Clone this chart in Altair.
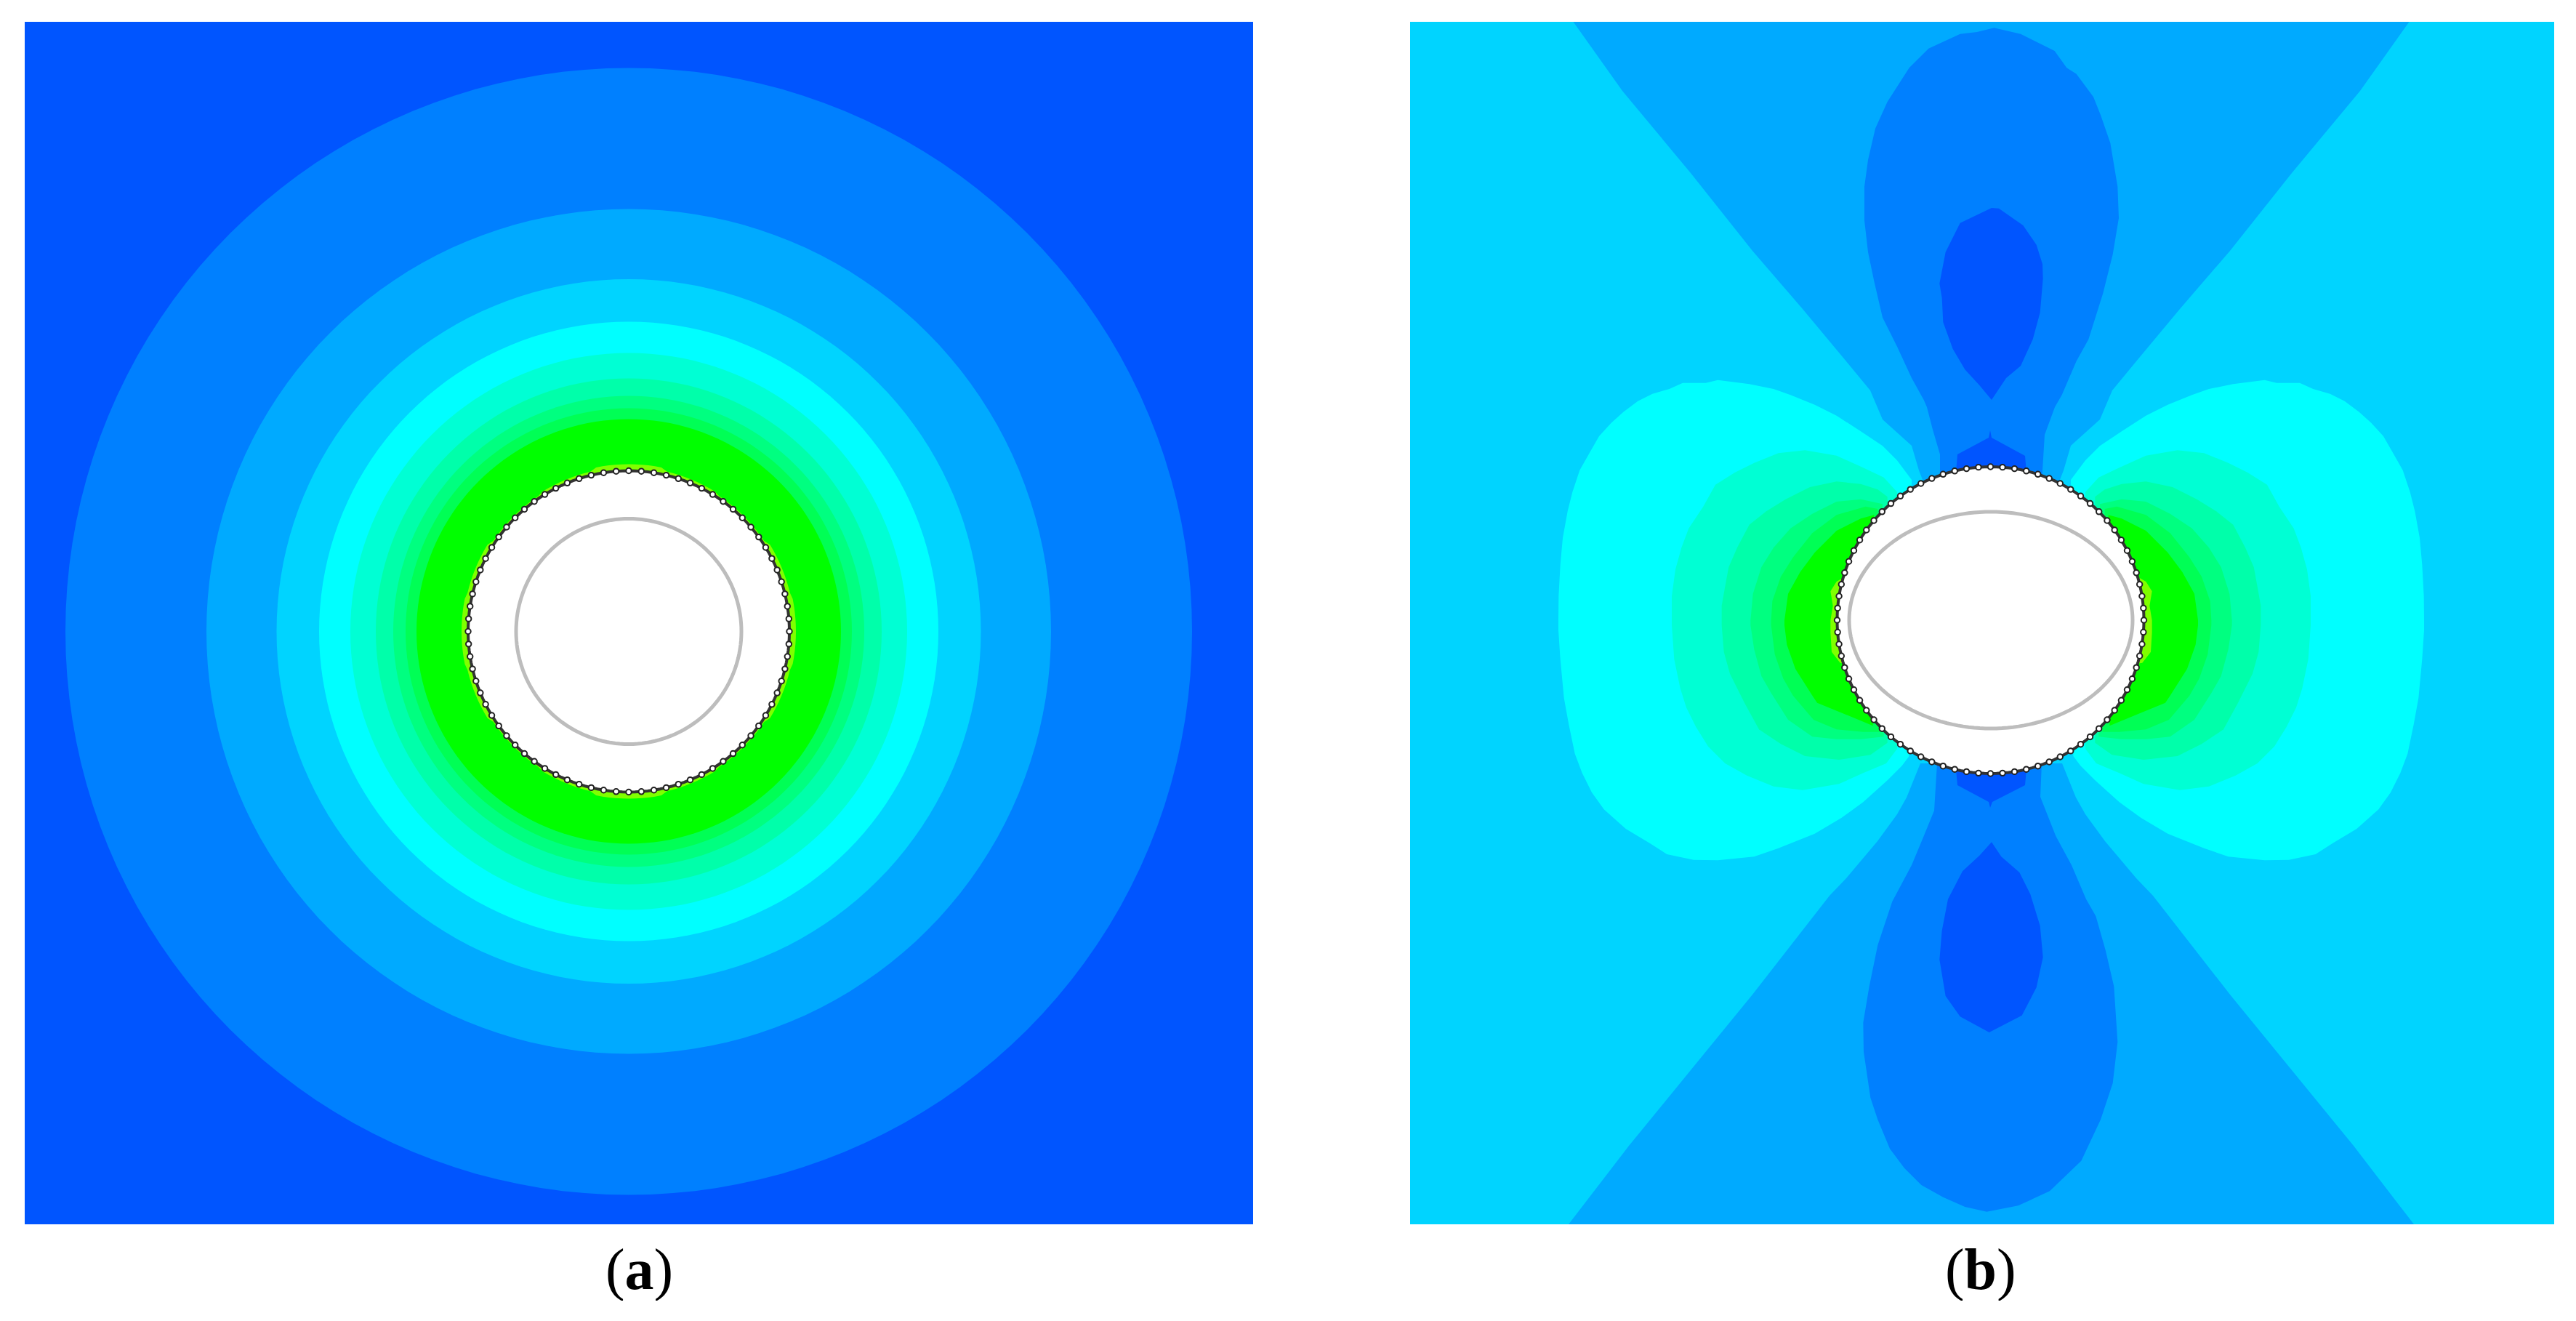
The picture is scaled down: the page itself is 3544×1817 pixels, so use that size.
import math
import altair as alt

# ---------- panel (a): radii of the contour rings, reference pixels ----------
C_BG_A = "#0055FF"
RING_COLORS_A = ["#0080FF", "#00AAFF", "#00D4FF", "#00FFFF", "#00FFD4", "#00FFAA", "#00FF80", "#00FF55", "#00FF00"]
RING_R_A = [775, 581, 484.5, 426, 383, 348, 324, 307, 292]
LIME_R_A = [230, 228, 224, 226, 230, 226, 224, 228, 230, 228, 224, 226, 230, 226, 224, 228]
HOLE_R_A = 221
GREY_R_A = 155
W_A, H_A = 1690, 1654
W_B, H_B = 1574, 1654
TRANSLATE = (831, 838.5)
ORIGIN_A = (865, 868.5)
ORIGIN_B = (2771, 868.5)
PANEL_B_BOX = [(1940, 30), (3514, 30), (3514, 1684), (1940, 1684)]
MIRROR_X = 5479

# ---------- panel (b): outlines ----------
# left-hand outlines, in the two 3x crops with origins Q1 and Q2
Q1, Q2, Q3, Q4 = (2130, 500), (2130, 850), (2540, 30), (2540, 1150)

WEDGE_TOP_LEFT = [(2164.5,30),(2232,125),(2326,238),(2411,345),(2480,425),(2540,497),(2573,537),(2590,577),(2630,613),(2640,647),(2647,665)]
WEDGE_BOTTOM_LEFT = [(2158,1684),(2241,1576),(2326,1472),(2411,1368),(2517,1232),(2540,1208),(2583,1157),(2610,1120),(2623,1097),(2642,1050)]

CYAN_Q1 = [(1500,480),(1440,400),(1380,340),(1290,280),(1190,215),(1100,170),(1000,130),(930,105),(830,85),(700,68),(650,80),(555,80),(500,105),(430,125),(370,155),(310,200),(260,245),(210,300),(170,370),(130,440),(100,530),(80,610),(60,720),(50,830),(43,960),(42,1060)]
CYAN_Q2 = [(42,50),(50,170),(65,330),(85,440),(110,560),(140,640),(180,720),(230,790),(320,870),(420,930),(490,975),(600,998),(700,1000),(850,985),(950,950),(1100,890),(1210,825),(1300,760),(1400,670),(1460,610),(1490,570)]
D4_Q1 = [(1440,530),(1385,470),(1300,430),(1190,380),(1060,358),(950,370),(850,410),(770,450),(690,500),(640,590),(580,680),(550,760),(525,850),(510,960),(510,1060)]
D4_Q2 = [(510,30),(520,170),(545,290),(570,370),(610,450),(660,530),(730,600),(820,650),(930,695),(1050,710),(1200,685),(1300,640),(1395,600),(1440,540)]
AA_Q1 = [(1400,550),(1360,520),(1290,497),(1190,487),(1080,510),(980,560),(900,610),(830,665),(780,760),(745,840),(730,920),(716,1000),(716,1060)]
AA_Q2 = [(716,30),(725,140),(750,230),(810,350),(870,460),(960,520),(1060,570),(1200,585),(1330,565),(1400,515)]
L80_Q1 = [(1380,580),(1290,560),(1190,570),(1090,620),(1000,680),(930,760),(880,840),(845,950),(835,1060)]
L80_Q2 = [(835,30),(850,130),(880,240),(920,310),(990,420),(1090,490),(1190,500),(1290,500),(1385,490)]
L55_Q1 = [(1360,600),(1310,590),(1190,625),(1090,700),(1010,800),(960,880),(925,980),(920,1060)]
L55_Q2 = [(920,30),(935,150),(970,250),(1010,320),(1095,420),(1190,460),(1300,470),(1370,470)]
L00_Q1 = [(1345,625),(1290,640),(1190,690),(1100,780),(1040,860),(990,950),(975,1060)]
L00_Q2 = [(975,30),(985,110),(1020,210),(1090,320),(1110,350),(1220,395),(1340,445)]
LIME_Q1 = [(1225,880),(1190,900),(1165,940),(1175,1000),(1165,1060)]
LIME_Q2 = [(1165,60),(1170,140),(1205,185),(1235,190)]

LOBE_TOP_Q3 = [(320,1560),(270,1470),(210,1340),(150,1220),(115,1070),(90,950),(75,820),(75,680),(90,570),(120,440),(170,330),(260,190),(340,110),(470,50),(540,42),(610,25),(720,50),(860,120),(910,190),(950,215),(1020,310),(1050,385),(1090,500),(1120,680),(1125,810),(1100,960),(1060,1120),(1000,1310),(950,1400),(890,1540)]
LOBE_TOP_NEAR_RIGHT = [(2827,560),(2813,598),(2809.5,655)]
LOBE_TOP_NEAR_LEFT = [(2669,655),(2669,625),(2659,591),(2651,560)]
DROP_TOP_Q3 = [(600,1560),(550,1500),(490,1435),(440,1350),(400,1240),(395,1140),(385,1080),(410,950),(470,830),(600,768),(630,770),(730,840),(785,920),(810,1000),(812,1060),(800,1200),(770,1310),(720,1420),(660,1470)]
LOBE_BOTTOM_NEAR_LEFT = [(2665,1050),(2661,1115)]
LOBE_BOTTOM_Q4 = [(320,0),(270,120),(190,270),(130,450),(95,620),(70,770),(72,890),(100,1080),(130,1170),(180,1290),(240,1370),(310,1440),(400,1490),(490,1530),(580,1550),(710,1525),(840,1465),(970,1340),(1050,1170),(1100,1020),(1120,850),(1105,620),(1070,470),(1030,330),(990,260),(930,120),(865,0)]
LOBE_BOTTOM_NEAR_RIGHT = [(2807,1096),(2809,1050)]
DROP_BOTTOM_Q4 = [(600,25),(550,80),(480,145),(420,260),(395,390),(385,510),(410,660),(470,745),(590,810),(725,740),(785,625),(812,500),(800,370),(760,240),(715,150),(640,85)]
DOME_TOP = [(2691,650),(2693,625),(2736,602),(2738,592),(2740,602),(2786,627),(2788,650)]
DOME_BOTTOM = [(2691,1058),(2693,1080),(2736,1103),(2738,1111),(2741,1103),(2786,1080),(2788,1058)]

HOLE_B = (2738.5, 853, 211)
GREY_B = (2739, 853, 195, 149)
N_DOTS = 80

# ---------- labels: text, left edge inside the panel, weight ----------
LABEL_A = [("(", 799, "normal"), ("a", 825.6, "bold"), (")", 865.6, "normal")]
LABEL_B = [("(", 736, "normal"), ("b", 762.6, "bold"), (")", 807, "normal")]
LABEL_SIZE = 80
LABEL_Y = 1743


def feature(coords, color):
    return {"type": "Feature", "properties": {"c": color},
            "geometry": {"type": "Polygon", "coordinates": [[list(p) for p in coords] + [list(coords[0])]]}}


def crop(origin, pts):
    return [(origin[0] + x / 3, origin[1] + y / 3) for x, y in pts]


def rel(pts, origin):
    return [(x - origin[0], origin[1] - y) for x, y in pts]


def mirrored(pts):
    return [(MIRROR_X - x, y) for x, y in pts]


def polar(rs, cx=0.0, cy=0.0, ry_ratio=1.0, n=160):
    pts = []
    m = len(rs)
    for i in range(n):
        a = 2 * math.pi * i / n
        r = rs[round(i * m / n) % m]
        pts.append((cx + r * math.cos(a), cy + r * ry_ratio * math.sin(a)))
    return pts


def layers(fills, ring_poly, grey_poly, dots, labels):
    proj = dict(type="identity", reflectY=True, scale=1, translate=list(TRANSLATE))
    base = alt.Chart(alt.Data(values=fills)).mark_geoshape(strokeWidth=0).encode(
        color=alt.Color("properties.c:N", scale=None)
    ).project(**proj)
    ring = alt.Chart(alt.Data(values=[feature(ring_poly, "#333333")])).mark_geoshape(
        filled=False, stroke="#333333", strokeWidth=4).project(**proj)
    grey = alt.Chart(alt.Data(values=[feature(grey_poly, "#BDBDBD")])).mark_geoshape(
        filled=False, stroke="#BDBDBD", strokeWidth=5).project(**proj)
    points = alt.Chart(alt.Data(values=[{"lon": x, "lat": y} for x, y in dots])).mark_point(
        filled=True, fill="white", stroke="#222222", strokeWidth=2, size=55, opacity=1
    ).encode(longitude="lon:Q", latitude="lat:Q").project(**proj)
    parts = [base, ring, grey, points]
    for txt, px, weight in labels:
        parts.append(
            alt.Chart(alt.Data(values=[{"t": txt}])).mark_text(
                font="Liberation Serif", fontSize=LABEL_SIZE, fontWeight=weight, align="left",
                baseline="alphabetic", color="black"
            ).encode(text="t:N", x=alt.value(px), y=alt.value(LABEL_Y))
        )
    return alt.layer(*parts)


# panel (a)
fills_a = [feature(rel([(34, 30), (1724, 30), (1724, 1684), (34, 1684)], ORIGIN_A), C_BG_A)]
for r, col in zip(RING_R_A, RING_COLORS_A):
    fills_a.append(feature(polar([r]), col))
fills_a.append(feature(polar(LIME_R_A), "#80FF00"))
fills_a.append(feature(polar([HOLE_R_A]), "#FFFFFF"))
dots_a = [(HOLE_R_A * math.cos(2 * math.pi * i / N_DOTS), HOLE_R_A * math.sin(2 * math.pi * i / N_DOTS)) for i in range(N_DOTS)]
panel_a = layers(fills_a, polar([HOLE_R_A]), polar([GREY_R_A]), dots_a, LABEL_A).properties(width=W_A, height=H_A)


# panel (b)
def add_b(fills, pts, col):
    fills.append(feature(rel(pts, ORIGIN_B), col))


fills_b = []
add_b(fills_b, PANEL_B_BOX, "#00D4FF")
add_b(fills_b, WEDGE_TOP_LEFT + mirrored(WEDGE_TOP_LEFT)[::-1], "#00AAFF")
add_b(fills_b, WEDGE_BOTTOM_LEFT + mirrored(WEDGE_BOTTOM_LEFT)[::-1], "#00AAFF")
add_b(fills_b, LOBE_TOP_NEAR_LEFT + crop(Q3, LOBE_TOP_Q3) + LOBE_TOP_NEAR_RIGHT, "#0080FF")
add_b(fills_b, LOBE_BOTTOM_NEAR_LEFT + crop(Q4, LOBE_BOTTOM_Q4) + LOBE_BOTTOM_NEAR_RIGHT, "#0080FF")
add_b(fills_b, crop(Q3, DROP_TOP_Q3), "#0055FF")
add_b(fills_b, crop(Q4, DROP_BOTTOM_Q4), "#0055FF")
add_b(fills_b, DOME_TOP, "#0055FF")
add_b(fills_b, DOME_BOTTOM, "#0055FF")
for q1, q2, col in ((CYAN_Q1, CYAN_Q2, "#00FFFF"), (D4_Q1, D4_Q2, "#00FFD4"), (AA_Q1, AA_Q2, "#00FFAA"),
                    (L80_Q1, L80_Q2, "#00FF80"), (L55_Q1, L55_Q2, "#00FF55"), (L00_Q1, L00_Q2, "#00FF00"),
                    (LIME_Q1, LIME_Q2, "#80FF00")):
    outline = crop(Q1, q1) + crop(Q2, q2)
    add_b(fills_b, outline, col)
    add_b(fills_b, mirrored(outline), col)
hx, hy, hr = HOLE_B
hcx, hcy = hx - ORIGIN_B[0], ORIGIN_B[1] - hy
fills_b.append(feature(polar([hr], hcx, hcy), "#FFFFFF"))
dots_b = [(hcx + hr * math.cos(2 * math.pi * i / N_DOTS), hcy + hr * math.sin(2 * math.pi * i / N_DOTS)) for i in range(N_DOTS)]
gx, gy, grx, gry = GREY_B
panel_b = layers(fills_b, polar([hr], hcx, hcy),
                 polar([grx], gx - ORIGIN_B[0], ORIGIN_B[1] - gy, gry / grx), dots_b, LABEL_B).properties(width=W_B, height=H_B)

chart = alt.hconcat(panel_a, panel_b, spacing=216).configure_view(strokeWidth=0).properties(
    padding={"left": 26, "top": 22, "right": 0, "bottom": 0}, background="white")

chart.save("out.html", embed_options={"renderer": "svg", "actions": False})
